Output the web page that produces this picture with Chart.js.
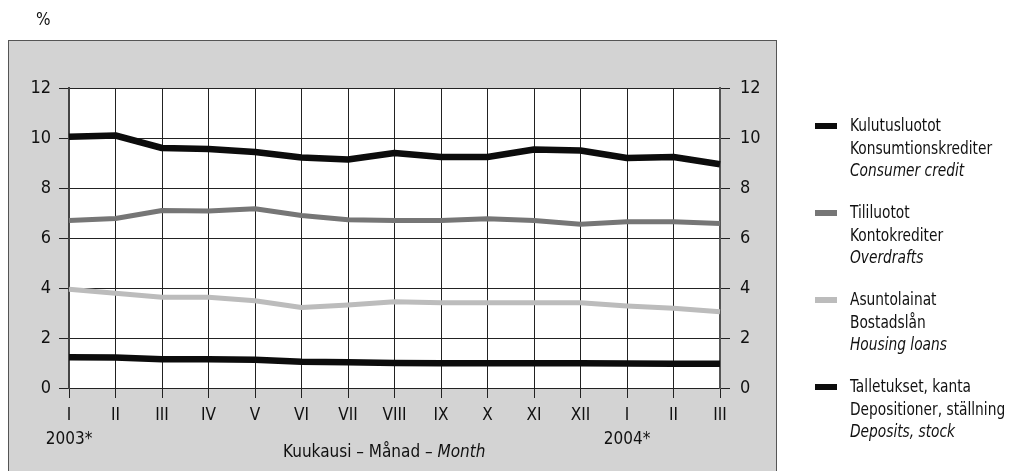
<!DOCTYPE html>
<html lang="fi">

<head>
  <meta charset="UTF-8">
  <title>Korot</title>
  <script src="https://cdn.jsdelivr.net/npm/chart.js"></script>
  <style>
    body {
      margin: 0;
      background: #fff;
      font-family: 'DejaVu Sans Condensed', 'Liberation Sans', sans-serif;
      color: #111;
    }
    .wrap {
      position: relative;
      width: 1011px;
      height: 471px;
      overflow: hidden;
    }
    .note {
      position: absolute;
      font-size: 17px;
      white-space: nowrap;
    }
    .legend {
      position: absolute;
      left: 815px;
      font-size: 17px;
      line-height: 22.5px;
    }
    .legend .mark {
      position: absolute;
      left: 0;
      top: 9px;
      width: 22px;
      height: 6px;
    }
    .legend .txt {
      margin-left: 35px;
      white-space: nowrap;
      transform: scaleX(0.9);
      transform-origin: left top;
    }
  </style>
</head>

<body>
  <div class="wrap">
    <canvas id="myChart" width="1011" height="471"></canvas>
    <div class="note" style="left:36px; top:9px;">%</div>
    <div class="note" style="left:283px; top:441px;">Kuukausi – Månad – <i>Month</i></div>
    <div id="legend"></div>
  </div>

  <script>
    // values
    const months = ['I', 'II', 'III', 'IV', 'V', 'VI', 'VII', 'VIII', 'IX', 'X', 'XI', 'XII', 'I', 'II', 'III'];
    const years = ['2003*', '', '', '', '', '', '', '', '', '', '', '', '2004*', '', ''];
    const consumerCredit = [10.05, 10.1, 9.6, 9.56, 9.44, 9.22, 9.14, 9.4, 9.24, 9.24, 9.54, 9.5, 9.2, 9.24, 8.95];
    const overdrafts = [6.7, 6.78, 7.1, 7.08, 7.17, 6.9, 6.73, 6.7, 6.7, 6.77, 6.7, 6.55, 6.65, 6.65, 6.58];
    const housingLoans = [3.95, 3.79, 3.63, 3.63, 3.49, 3.22, 3.32, 3.45, 3.41, 3.41, 3.41, 3.41, 3.28, 3.19, 3.05];
    const deposits = [1.23, 1.22, 1.15, 1.15, 1.13, 1.05, 1.03, 1.0, 0.99, 0.99, 0.99, 0.99, 0.98, 0.97, 0.97];
    const yMin = 0, yMax = 12, yStep = 2;

    const seriesNames = [
      ['Kulutusluotot', 'Konsumtionskrediter', 'Consumer credit'],
      ['Tililuotot', 'Kontokrediter', 'Overdrafts'],
      ['Asuntolainat', 'Bostadslån', 'Housing loans'],
      ['Talletukset, kanta', 'Depositioner, ställning', 'Deposits, stock']
    ];
    const seriesColors = ['#0c0c0c', '#767676', '#bcbcbc', '#0c0c0c'];
    const seriesWidths = [6.5, 5, 5, 6.5];
    const seriesData = [consumerCredit, overdrafts, housingLoans, deposits];

    const FONT = "'DejaVu Sans Condensed', 'Liberation Sans', sans-serif";

    // legend as html
    const legendEl = document.getElementById('legend');
    seriesNames.forEach((names, i) => {
      const item = document.createElement('div');
      item.className = 'legend';
      item.style.top = (114 + i * 87) + 'px';
      item.innerHTML = '<div class="mark" style="background:' + seriesColors[i] + '"></div>' +
        '<div class="txt">' + names[0] + '<br>' + names[1] + '<br><i>' + names[2] + '</i></div>';
      legendEl.appendChild(item);
    });

    // grey panel behind the plot
    const panel = {
      id: 'panel',
      beforeDraw(chart) {
        const c = chart.ctx, a = chart.chartArea;
        c.save();
        c.fillStyle = '#d3d3d3';
        c.fillRect(8, 40, 769, 440);
        c.strokeStyle = '#555';
        c.lineWidth = 1;
        c.strokeRect(8.5, 40.5, 768, 440);
        c.fillStyle = '#fff';
        c.fillRect(a.left, a.top, a.right - a.left, a.bottom - a.top);
        c.restore();
      }
    };

    const yTicks = {
      color: '#111',
      font: { family: FONT, size: 18 },
      padding: 8,
      stepSize: yStep
    };

    const ctx = document.getElementById('myChart').getContext('2d');
    new Chart(ctx, {
      type: 'line',
      data: {
        labels: months.map((m, i) => [m, years[i]]),
        datasets: seriesData.map((d, i) => ({
          label: seriesNames[i][0],
          data: d,
          borderColor: seriesColors[i],
          borderWidth: seriesWidths[i],
          pointRadius: 0,
          tension: 0,
          borderJoinStyle: 'round',
          borderCapStyle: 'butt'
        }))
      },
      options: {
        responsive: false,
        animation: false,
        layout: { padding: { left: 0, right: 0, top: 88, bottom: 0 } },
        plugins: { legend: { display: false }, tooltip: { enabled: false } },
        scales: {
          x: {
            offset: false,
            grid: { color: '#222', lineWidth: 1, tickLength: 10 },
            border: { color: '#222' },
            ticks: {
              color: '#111',
              font: { family: FONT, size: 17, lineHeight: 1.4 },
              padding: 6,
              maxRotation: 0,
              autoSkip: false
            },
            afterFit(s) { s.height = 83; }
          },
          y: {
            position: 'left',
            min: yMin,
            max: yMax,
            grid: { color: '#222', lineWidth: 1, tickLength: 10 },
            border: { color: '#444', width: 2 },
            ticks: yTicks,
            afterFit(s) { s.width = 69; }
          },
          y2: {
            position: 'right',
            min: yMin,
            max: yMax,
            grid: { drawOnChartArea: false, color: '#222', tickLength: 10 },
            border: { color: '#555', width: 2 },
            ticks: Object.assign({}, yTicks, { padding: 10 }),
            afterFit(s) { s.width = 291; }
          }
        }
      },
      plugins: [panel]
    });
  </script>
</body>

</html>
